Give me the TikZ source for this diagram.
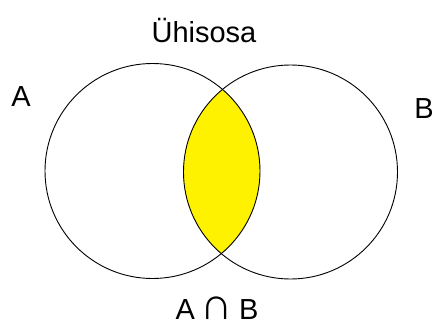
\documentclass[tikz,border=0pt]{standalone}
\usepackage{fontspec}
\setmainfont{Liberation Sans}
\begin{document}
\begin{tikzpicture}[x=1pt,y=-1pt,
  circ/.style={draw=black,line width=0.9pt},
  lab/.style={font=\fontsize{29}{29}\selectfont,inner sep=0pt,text=black}]
\useasboundingbox (0,0) rectangle (435,326);
\coordinate (ca) at (152.5,171);
\coordinate (cb) at (290.5,172);
\begin{scope}
  \clip (ca) circle (107.5pt);
  \fill[yellow] (cb) circle (107pt);
\end{scope}
\draw[circ] (ca) circle (107.5pt);
\draw[circ] (cb) circle (107pt);
\node[lab,anchor=base] (title) at (204,43) {Ühisosa};
\node[lab,anchor=base] (la) at (21,106) {A};
\node[lab,anchor=base] (lb) at (424,118) {B};
\node[lab,anchor=base] (lab) at (217,319) {A\hspace{6pt}\scalebox{1.55}{∩}\hspace{6pt}B};
\end{tikzpicture}
\end{document}
